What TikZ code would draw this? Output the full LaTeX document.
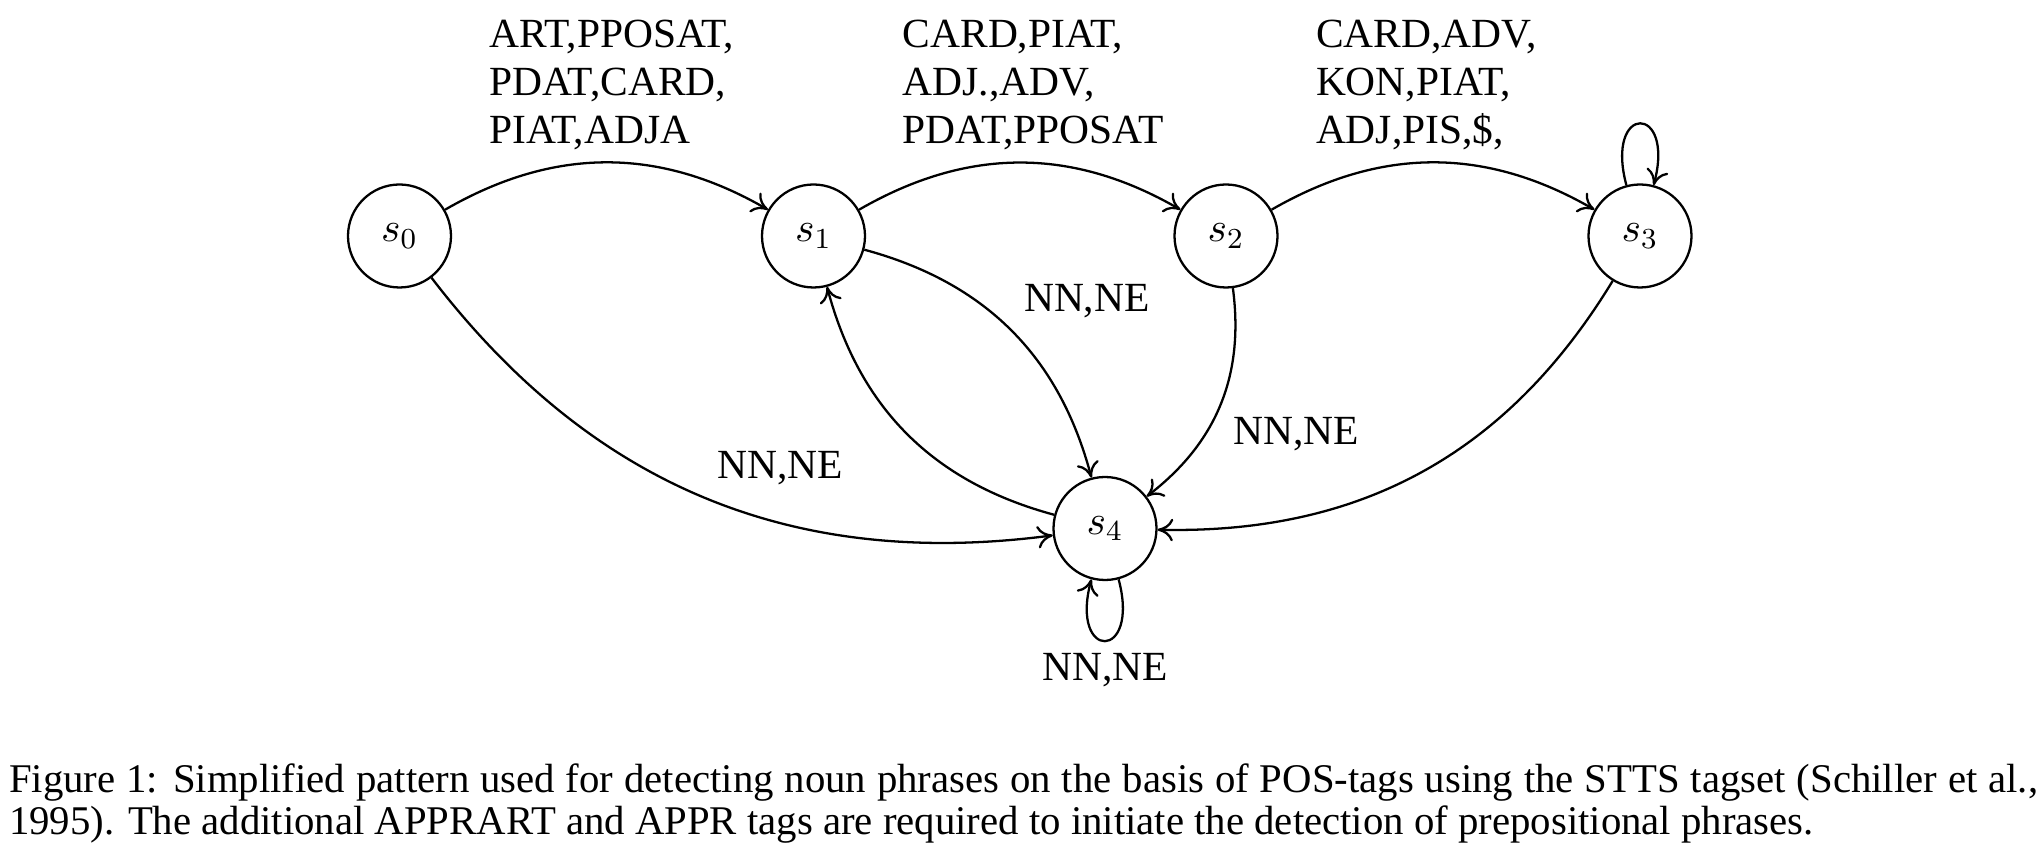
\documentclass[tikz,border=0pt]{standalone}
\usepackage{fix-cm}
\usepackage{fontspec}
\setmainfont{Liberation Serif}
\usepackage{tikz}
\usetikzlibrary{positioning,arrows,arrows.meta}

\begin{document}
\begin{tikzpicture}[line width=0.65pt, auto, >={To[length=4.4pt, width=6.4pt]},
    every node/.style={font=\fontsize{11.8}{13.66}\selectfont},
    state/.style={circle, draw, minimum size=1.03cm, inner sep=0pt},
    tags/.style={text width=2.34cm, align=left}]
    \useasboundingbox (0,0) rectangle (20.43,-8.61);

    % States
    \node[state] (s0) at (3.995,-2.36) {$s_0$};
    \node[state] (s1) at (8.135,-2.36) {$s_1$};
    \node[state] (s2) at (12.26,-2.36) {$s_2$};
    \node[state] (s3) at (16.40,-2.36) {$s_3$};
    \node[state] (s4) at (11.05,-5.285) {$s_4$};

    % Transitions
    \draw[->] (s0) to[bend left=30] node[tags] {ART,PPOSAT,\\PDAT,CARD,\\PIAT,ADJA} (s1);
    \draw[->] (s1) to[bend left=30] node[tags] {CARD,PIAT,\\ADJ.,ADV,\\PDAT,PPOSAT} (s2);
    \draw[->] (s2) to[bend left=30] node[tags] {CARD,ADV,\\KON,PIAT,\\ADJ,PIS,\$,} (s3);
    \draw[->] (s3) to[loop above] (s3);

    \draw[->] (s0) to[bend right=30] node {NN,NE} (s4);
    \draw[->] (s1) to[bend left=30] node {NN,NE} (s4);
    \draw[->] (s4) to[bend left=30] (s1);
    \draw[->] (s2) to[bend left=30] node {NN,NE} (s4);
    \draw[->] (s3) to[bend left=30] (s4);
    \draw[->] (s4) to[loop below] node {NN,NE} (s4);

    % Caption
    \node[anchor=base west, inner sep=0pt, text width=20.29cm, align=justify, font=\fontsize{11.6}{11.86}\selectfont] (caption) at (0.08,-7.93) {Figure 1: Simplified pattern used for detecting noun phrases on the basis of POS-tags using the STTS tagset (Schiller et al., 1995). The additional APPRART and APPR tags are required to initiate the detection of prepositional phrases.};
\end{tikzpicture}
\end{document}
